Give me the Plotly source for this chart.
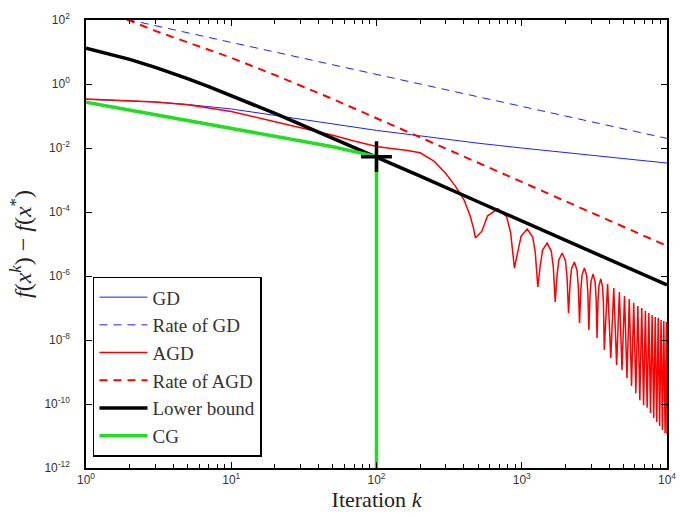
import numpy as np
import plotly.graph_objects as go

# ---------------- data (log10 of f(x^k)-f(x^*)) ----------------
gd_k = [1, 2, 3, 5, 10, 20, 30, 50, 100, 200, 500, 1000, 2000, 5000, 10000]
gd_log = [-0.48, -0.52, -0.56, -0.64, -0.78, -0.98, -1.10, -1.25, -1.45, -1.62,
          -1.85, -2.00, -2.15, -2.33, -2.47]

rate_gd_k = [1, 10, 100, 1000, 10000]
rate_gd_log = [2.30, 1.30, 0.30, -0.70, -1.70]

rate_agd_k = [1, 2, 3, 5, 7, 10, 20, 50, 100, 200, 500, 1000, 2000, 5000, 10000]
rate_agd_log = [2.30, 1.98, 1.66, 1.30, 1.08, 0.82, 0.28, -0.47, -1.07, -1.66,
                -2.46, -3.06, -3.66, -4.46, -5.06]

lb_k = [1, 2, 3, 4, 5, 7, 10, 15, 20, 30, 50, 70, 100, 200, 500, 1000, 2000, 5000, 10000]
lb_log = [1.12, 0.77, 0.52, 0.33, 0.17, -0.08, -0.36, -0.68, -0.92, -1.26, -1.69,
          -1.98, -2.28, -2.88, -3.68, -4.28, -4.88, -5.68, -6.28]

cg_k = [1, 2, 3, 5, 10, 20, 50, 100, 100]
cg_log = [-0.57, -0.82, -0.97, -1.15, -1.39, -1.63, -1.96, -2.27, -20.0]

agd_k = [1, 2, 3, 5, 10, 20, 30, 50, 70, 100, 130, 160, 200, 250, 300, 350, 400, 440, 465, 480,
         531, 582, 685, 787, 839, 890,
         940, 990, 1090, 1190, 1240, 1290,
         1341, 1392, 1495, 1597, 1649, 1700,
         1750, 1800, 1900, 2000, 2050, 2100,
         2150, 2200, 2300, 2400, 2450, 2500,
         2550, 2600, 2700, 2800, 2850, 2900,
         2950, 3000, 3100, 3200, 3250, 3300,
         3350, 3400, 3500, 3600, 3650, 3700,
         3900, 4100, 4300, 4500, 4700, 4900, 5100, 5300, 5500, 5700, 5900, 6100,
         6300, 6500, 6700, 6900, 7100, 7300, 7500, 7700, 7900, 8100, 8300, 8500,
         8700, 8900, 9100, 9300, 9500, 9700, 9900, 10000]
agd_log = [-0.47, -0.52, -0.56, -0.65, -0.86, -1.18, -1.36, -1.60, -1.78, -1.95, -2.02, -2.07,
           -2.15, -2.42, -2.80, -3.20, -3.62, -4.10, -4.50, -4.81,
           -4.60, -4.12, -3.90, -4.15, -4.65, -5.75,
           -5.23, -4.75, -4.53, -4.78, -5.28, -6.34,
           -5.67, -5.19, -4.97, -5.22, -5.72, -6.81,
           -5.98, -5.50, -5.28, -5.53, -6.03, -7.16,
           -6.26, -5.78, -5.56, -5.81, -6.31, -7.47,
           -6.45, -5.97, -5.75, -6.00, -6.50, -7.69,
           -6.64, -6.16, -5.94, -6.19, -6.69, -7.94,
           -6.79, -6.31, -6.09, -6.34, -6.84, -8.31,
           -6.25, -8.56, -6.375, -8.78, -6.50, -8.94, -6.625, -9.19, -6.72, -9.44, -6.84, -9.66,
           -6.94, -9.88, -7.00, -10.03, -7.09, -10.12, -7.16, -10.28, -7.22, -10.44, -7.28, -10.56,
           -7.31, -10.69, -7.375, -10.81, -7.41, -10.91, -7.44, -10.95]

cross_k = [100]
cross_log = [-2.27]

x_tickvals = [1, 10, 100, 1000, 10000]
x_ticktext = ["10<sup>0</sup>", "10<sup>1</sup>", "10<sup>2</sup>", "10<sup>3</sup>", "10<sup>4</sup>"]
y_exps = [2, 0, -2, -4, -6, -8, -10, -12]

# ---------------------------------------------------------------------------------------
def v(a):
    return 10.0 ** np.array(a, dtype=float)

fig = go.Figure()
fig.add_trace(go.Scatter(x=gd_k, y=v(gd_log), mode="lines", name="GD",
                         line=dict(color="#1f1fff", width=1)))
fig.add_trace(go.Scatter(x=rate_gd_k, y=v(rate_gd_log), mode="lines", name="Rate of GD",
                         line=dict(color="#1f1fff", width=1, dash="8px,6px")))
fig.add_trace(go.Scatter(x=agd_k, y=v(agd_log), mode="lines", name="AGD",
                         line=dict(color="#ff0000", width=1.5)))
fig.add_trace(go.Scatter(x=rate_agd_k, y=v(rate_agd_log), mode="lines", name="Rate of AGD",
                         line=dict(color="#ff0000", width=2, dash="8px,6px")))
fig.add_trace(go.Scatter(x=lb_k, y=v(lb_log), mode="lines", name="Lower bound",
                         line=dict(color="#000000", width=3.5)))
fig.add_trace(go.Scatter(x=cg_k, y=v(cg_log), mode="lines", name="CG",
                         line=dict(color="#22dd22", width=3.5)))
fig.add_trace(go.Scatter(x=cross_k, y=v(cross_log), mode="markers", showlegend=False,
                         marker=dict(symbol="cross-thin", size=22, color="black",
                                     line=dict(color="black", width=3.5))))

tickfont = dict(family="Liberation Sans, Arial", size=12, color="#333333")
fig.update_xaxes(type="log", range=[0, 4], showline=True, linecolor="black", linewidth=1.5,
                 mirror="ticks", ticks="inside", ticklen=6, tickwidth=1, tickcolor="black",
                 tickvals=x_tickvals, ticktext=x_ticktext, tickfont=tickfont, showgrid=False,
                 zeroline=False, automargin=False,
                 minor=dict(ticks="inside", ticklen=4, tickcolor="black", showgrid=False,
                            tickvals=[2, 3, 4, 5, 6, 7, 8, 9, 20, 30, 40, 50, 60, 70, 80, 90,
                                      200, 300, 400, 500, 600, 700, 800, 900,
                                      2000, 3000, 4000, 5000, 6000, 7000, 8000, 9000]),
                 title=dict(text="Iteration <i>k</i>", standoff=4,
                            font=dict(family="Liberation Serif, serif", size=22, color="#222222")))
fig.update_yaxes(type="log", range=[-12, 2], showline=True, linecolor="black", linewidth=1.5,
                 mirror="ticks", ticks="inside", ticklen=6, tickwidth=1, tickcolor="black",
                 tickvals=[10.0 ** e for e in y_exps],
                 ticktext=["10<sup>%d</sup>" % e for e in y_exps], tickfont=tickfont,
                 ticklabelstandoff=12, showgrid=False, zeroline=False, automargin=False,
                 title=dict(text="<i>f</i>(<i>x</i><sup><i>k</i></sup>) \u2212 <i>f</i>(<i>x</i><sup>*</sup>)",
                            standoff=6,
                            font=dict(family="Liberation Serif, serif", size=24, color="#222222")))

fig.update_layout(
    width=680, height=517,
    margin=dict(l=86, r=13, t=20, b=49, autoexpand=False),
    paper_bgcolor="white", plot_bgcolor="white",
    legend=dict(x=0.012, y=0.025, xanchor="left", yanchor="bottom",
                bgcolor="white", bordercolor="black", borderwidth=1.5,
                font=dict(family="Liberation Serif, serif", size=19, color="#333333"),
                tracegroupgap=0, itemwidth=48, entrywidth=200, entrywidthmode="pixels"),
)

fig.write_html("out.html", config={"displayModeBar": False})

# remove the browser's default 8px page margin so the figure sits at the window's corner
with open("out.html", "r", encoding="utf-8") as fh:
    html = fh.read()
html = html.replace("<head>", "<head><style>html,body{margin:0;padding:0;overflow:hidden;}</style>", 1)
with open("out.html", "w", encoding="utf-8") as fh:
    fh.write(html)
